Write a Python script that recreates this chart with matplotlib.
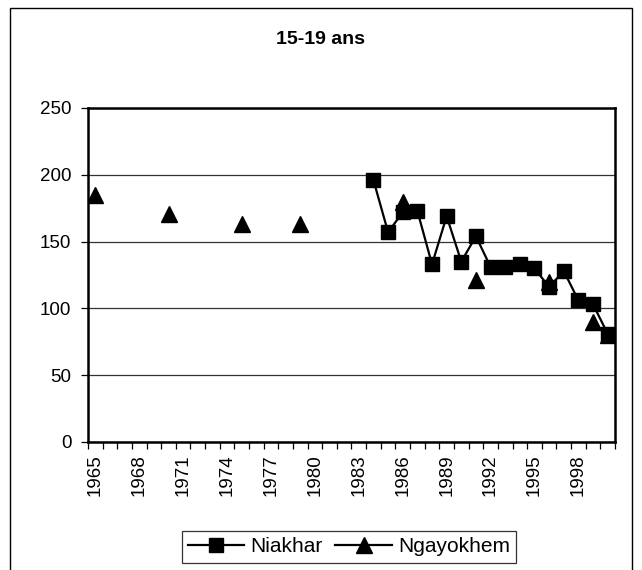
import matplotlib
matplotlib.use('Agg')
import matplotlib.pyplot as plt
import matplotlib.patches as patches
import numpy as np

plt.rcParams['font.family'] = ['Liberation Sans', 'DejaVu Sans']

# years on the category axis
years = list(range(1965, 2001))

# Niakhar series (1984-2000)
niakhar_years = list(range(1984, 2001))
niakhar_values = [196, 157, 172, 173, 133, 169, 135, 154, 131, 131,
                  133, 130, 116, 128, 106, 103, 81]

# Ngayokhem series (sparse)
ngayokhem_years = [1965, 1970, 1975, 1979, 1986, 1991, 1996, 1999, 2000]
ngayokhem_values = [185, 171, 163, 163, 180, 121, 120, 90, 80]

title = '15-19 ans'
label_years = list(range(1965, 2000, 3))


def to_full(yrs, vals):
    # fill missing years with NaN so the line breaks on gaps
    out = np.full(len(years), np.nan)
    for y, v in zip(yrs, vals):
        out[years.index(y)] = v
    return out


niakhar = to_full(niakhar_years, niakhar_values)
ngayokhem = to_full(ngayokhem_years, ngayokhem_values)

fig = plt.figure(figsize=(6.42, 5.7), dpi=100)
ax = fig.add_axes([88/642, 1 - 442/570, (615 - 88)/642, (442 - 108)/570])

ax.plot(years, niakhar, color='black', lw=1.6, marker='s', ms=10.5,
        label='Niakhar', zorder=3)
ax.plot(years, ngayokhem, color='black', lw=1.6, marker='^', ms=11,
        label='Ngayokhem', zorder=3)

ax.set_xlim(1964.5, 2000.5)
ax.set_ylim(0, 250)
ax.set_yticks(range(0, 251, 50))
ax.yaxis.grid(True, color='#333333', lw=0.9)
ax.set_axisbelow(True)

ax.set_xticks(label_years)
ax.set_xticklabels([str(y) for y in label_years], rotation=90, fontsize=13.5)
ax.set_xticks(np.arange(1964.5, 2001, 1), minor=True)
ax.tick_params(axis='x', which='major', length=0, pad=9)
ax.tick_params(axis='x', which='minor', length=5, width=0.9, direction='out')
ax.tick_params(axis='y', length=5, width=0.9, labelsize=13.5, pad=7)

for s in ax.spines.values():
    s.set_linewidth(1.8)
    s.set_color('black')

fig.text(0.5, 1 - 40/570, title, ha='center', va='center',
         fontsize=14, fontweight='bold')

# outer chart border
fig.patches.append(patches.Rectangle((10/642, -0.05), (632 - 10)/642, 1 - 8/570 + 0.05,
                                     transform=fig.transFigure, fill=False,
                                     edgecolor='black', lw=1.0))

leg = fig.legend(loc='center', bbox_to_anchor=(349/642, 1 - 547/570), ncol=2,
                 fontsize=15, frameon=True, fancybox=False, edgecolor='black',
                 handlelength=2.7, handletextpad=0.3, columnspacing=0.6,
                 borderpad=0.3, borderaxespad=0)
leg.get_frame().set_linewidth(0.9)

fig.savefig('out.png', dpi=100)
